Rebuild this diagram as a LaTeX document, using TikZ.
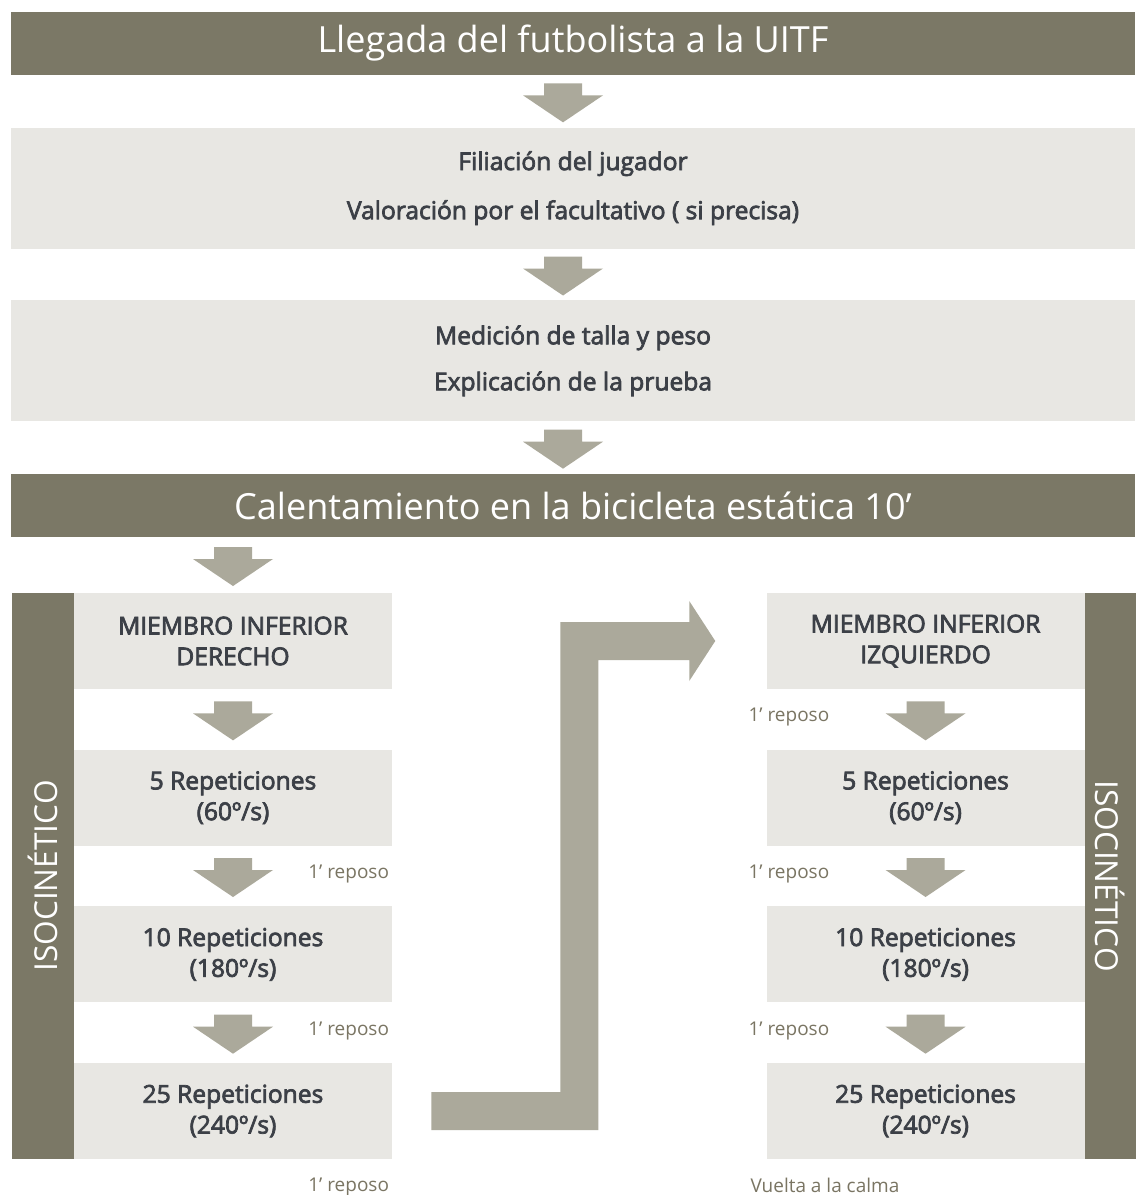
\documentclass[tikz,border=0pt]{standalone}
\usepackage{fontspec}
\setmainfont{Open Sans}
\newfontfamily\semib[FakeBold=3]{Open Sans}
\usepackage{tikz}
\usetikzlibrary{positioning, calc, fit}
\definecolor{barcol}{HTML}{7B7866}
\definecolor{arrcol}{HTML}{ABA99B}
\definecolor{boxcol}{HTML}{E8E7E3}
\definecolor{txtcol}{HTML}{3C4047}
\definecolor{repcol}{HTML}{7A7563}
\tikzset{bigbar/.style = {fill=barcol, text=white, minimum width=22.48cm, minimum height=1.26cm,
    inner sep=0pt, font=\fontsize{20.5}{24}\selectfont}}
\tikzset{infobox/.style = {fill=boxcol, text=txtcol, minimum width=22.48cm, minimum height=2.42cm,
    align=center, inner sep=0pt, font=\semib\fontsize{14}{17}\selectfont}}
\tikzset{stepbox/.style = {fill=boxcol, text=txtcol, minimum width=6.36cm, minimum height=1.92cm,
    align=center, inner sep=0pt, font=\semib\fontsize{14}{17.5}\selectfont}}
\tikzset{restlabel/.style = {text=repcol, inner sep=0pt, font=\fontsize{10.8}{12}\selectfont}}
\tikzset{sidetext/.style = {text=white, inner sep=0pt, font=\fontsize{18}{20}\selectfont}}
\NewDocumentCommand{\fatdown}{O{0} m m}{%
	\fill[arrcol] ($(#2)!0.5!(#3)+(#1,0)$) ++(-19,-18) -- ++(38,0) -- ++(0,12) -- ++(21,0)
	-- ++(-40,27) -- ++(-40,-27) -- ++(21,0) -- cycle;
}

\begin{document}
\begin{tikzpicture}[x=0.02cm, y=-0.02cm]
\path[use as bounding box, fill=white] (0,0) rectangle (1135,1195);

\node (title) [bigbar] at (573,43.5) {Llegada del futbolista a la UITF};
\node (fil) [infobox, below=1.04cm of title] {Filiación del jugador\\[10.9pt] Valoración por el facultativo ( si precisa)};
\node (med) [infobox, below=1.02cm of fil] {Medición de talla y peso\\[9.2pt] Explicación de la prueba};
\node (calor) [bigbar, below=1.04cm of med] {Calentamiento en la bicicleta estática 10’};

\node (l1) [stepbox] at (233,641) {MIEMBRO INFERIOR\\DERECHO};
\node (l2) [stepbox, below=1.2cm of l1] {5 Repeticiones\\(60º/s)};
\node (l3) [stepbox, below=1.2cm of l2] {10 Repeticiones\\(180º/s)};
\node (l4) [stepbox, below=1.2cm of l3] {25 Repeticiones\\(240º/s)};

\node (r1) [stepbox, right=7.48cm of l1] {MIEMBRO INFERIOR\\IZQUIERDO};
\node (r2) [stepbox, below=1.2cm of r1] {5 Repeticiones\\(60º/s)};
\node (r3) [stepbox, below=1.2cm of r2] {10 Repeticiones\\(180º/s)};
\node (r4) [stepbox, below=1.2cm of r3] {25 Repeticiones\\(240º/s)};

\node (lside) [fill=barcol, inner sep=0pt, fit={($(l1.north west)+(-62,0)$) (l4.south west)}] {};
\node (lsidetxt) [sidetext, rotate=90] at (lside.center) {ISOCINÉTICO};
\node (rside) [fill=barcol, inner sep=0pt, fit={(r1.north east) ($(r4.south east)+(51,0)$)}] {};
\node (rsidetxt) [sidetext, rotate=-90] at (rside.center) {ISOCINÉTICO};

\fatdown[-10]{title.south}{fil.north}
\fatdown[-10]{fil.south}{med.north}
\fatdown[-10]{med.south}{calor.north}
\coordinate (lgo) at (calor.south -| l1.north);
\fatdown{lgo}{l1.north}
\fatdown{l1.south}{l2.north}
\fatdown{l2.south}{l3.north}
\fatdown{l3.south}{l4.north}
\fatdown{r1.south}{r2.north}
\fatdown{r2.south}{r3.north}
\fatdown{r3.south}{r4.north}

% elbow from left column to right column
\coordinate (es) at ($(l4.east)+(39,0)$);
\coordinate (ee) at ($(r1.west)+(-51,0)$);
\coordinate (ea) at ($(es)+(0,-19)$);
\coordinate (eb) at ($(es)+(0,19)$);
\coordinate (ec) at ($(ee)+(-155,-19)$);
\coordinate (ed) at ($(ee)+(-117,19)$);
\fill[arrcol] (ea) -| (ec) -- ++(129,0) -- ++(0,-21) -- (ee) -- ++(-26,40) -- ++(0,-21) -- (ed) |- (eb) -- cycle;

\node (lrest1) [restlabel, anchor=east] at ($(l2.south east)!0.5!(l3.north east)+(-3,-2)$) {1’ reposo};
\node (lrest2) [restlabel, anchor=east] at ($(l3.south east)!0.5!(l4.north east)+(-3,-2)$) {1’ reposo};
\node (lrest3) [restlabel, anchor=east] at ($(l4.south east)+(-3,28)$) {1’ reposo};
\node (rrest1) [restlabel, anchor=west] at ($(r1.south west)!0.5!(r2.north west)+(-18,-2)$) {1’ reposo};
\node (rrest2) [restlabel, anchor=west] at ($(r2.south west)!0.5!(r3.north west)+(-18,-2)$) {1’ reposo};
\node (rrest3) [restlabel, anchor=west] at ($(r3.south west)!0.5!(r4.north west)+(-18,-2)$) {1’ reposo};
\node (calma) [restlabel, anchor=west] at ($(r4.south west)+(-16,26)$) {Vuelta a la calma};
\end{tikzpicture}
\end{document}
